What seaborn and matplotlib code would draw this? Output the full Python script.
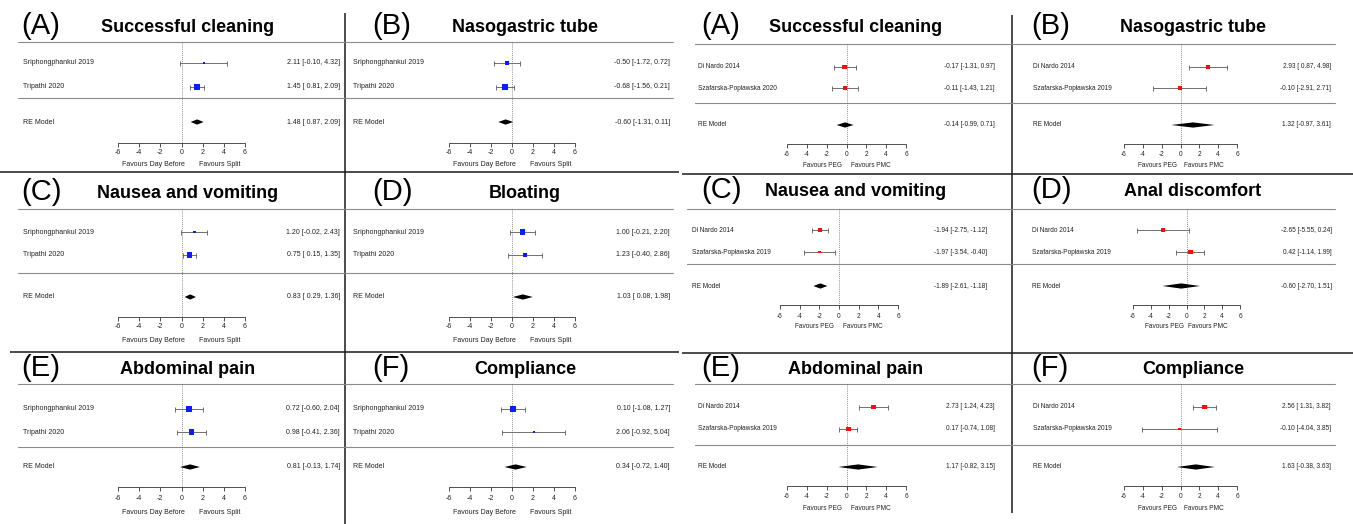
import matplotlib
matplotlib.use("Agg")
import matplotlib.pyplot as plt
import seaborn as sns
import numpy as np
import pandas as pd

sns.set_theme(style="white")
plt.rcParams['font.family'] = ['Liberation Sans', 'DejaVu Sans']

W, H = 1353, 524

# ---------------- data ----------------
tags = ["(A)", "(B)", "(C)", "(D)", "(E)", "(F)"]
ticks = [-6, -4, -2, 0, 2, 4, 6]

outcomes_split = ["Successful cleaning", "Nasogastric tube", "Nausea and vomiting",
                  "Bloating", "Abdominal pain", "Compliance"]
studies_split = ["Sriphongphankul 2019", "Tripathi 2020"]
split_est = [[2.11, 1.45], [-0.50, -0.68], [1.20, 0.75], [1.00, 1.23], [0.72, 0.98], [0.10, 2.06]]
split_lo = [[-0.10, 0.81], [-1.72, -1.56], [-0.02, 0.15], [-0.21, -0.40], [-0.60, -0.41], [-1.08, -0.92]]
split_hi = [[4.32, 2.09], [0.72, 0.21], [2.43, 1.35], [2.20, 2.86], [2.04, 2.36], [1.27, 5.04]]
split_re = [1.48, -0.60, 0.83, 1.03, 0.81, 0.34]
split_re_lo = [0.87, -1.31, 0.29, 0.08, -0.13, -0.72]
split_re_hi = [2.09, 0.11, 1.36, 1.98, 1.74, 1.40]
split_favours = ["Favours Day Before", "Favours Split"]

outcomes_peg = ["Successful cleaning", "Nasogastric tube", "Nausea and vomiting",
                "Anal discomfort", "Abdominal pain", "Compliance"]
studies_peg = [["Di Nardo 2014", "Szafarska-Poplawska 2020"]] + \
              [["Di Nardo 2014", "Szafarska-Popławska 2019"]] * 5
peg_est = [[-0.17, -0.11], [2.93, -0.10], [-1.94, -1.97], [-2.65, 0.42], [2.73, 0.17], [2.56, -0.10]]
peg_lo = [[-1.31, -1.43], [0.87, -2.91], [-2.75, -3.54], [-5.55, -1.14], [1.24, -0.74], [1.31, -4.04]]
peg_hi = [[0.97, 1.21], [4.98, 2.71], [-1.12, -0.40], [0.24, 1.99], [4.23, 1.08], [3.82, 3.85]]
peg_re = [-0.14, 1.32, -1.89, -0.60, 1.17, 1.63]
peg_re_lo = [-0.99, -0.97, -2.61, -2.70, -0.82, -0.38]
peg_re_hi = [0.71, 3.61, -1.18, 1.51, 3.15, 3.63]
peg_favours = ["Favours PEG", "Favours PMC"]

# ---------------- layout (pixels) ----------------
COLS = [
    dict(x0=0, x1=345, m6=118, p6=245, lab=23, rt=340, l0=18, l1=345, tc=188, tag=21),
    dict(x0=345, x1=680, m6=449, p6=575, lab=353, rt=670, l0=345, l1=673, tc=525, tag=372),
    dict(x0=680, x1=1012, m6=787, p6=906, lab=698, rt=995, l0=695, l1=1012, tc=856, tag=701),
    dict(x0=1012, x1=1353, m6=1124, p6=1237, lab=1033, rt=1331, l0=1012, l1=1335, tc=1193, tag=1031),
]
# overrides for the middle row of the right group
COL_OVR = {(1, 2): dict(m6=780, p6=898, lab=692, rt=987, l0=687),
           (1, 3): dict(m6=1133, p6=1240, lab=1032, rt=1332)}

ROWS_L = [
    dict(top=0, bot=172, title=26, tline=42, r=(63, 87), sep=98, re=122, axis=143, tick=153, fav=165),
    dict(top=172, bot=352, title=192, tline=209, r=(232, 255), sep=273, re=297, axis=317, tick=327, fav=341),
    dict(top=352, bot=524, title=368, tline=384, r=(409, 432), sep=447, re=467, axis=487, tick=498, fav=512),
]
ROWS_R = [
    dict(top=0, bot=174, title=26, tline=44, r=(67, 88), sep=103, re=125, axis=144, tick=155, fav=166),
    dict(top=174, bot=353, title=190, tline=209, r=(230, 252), sep=264, re=286, axis=305, tick=316, fav=326),
    dict(top=353, bot=524, title=368, tline=384, r=(407, 429), sep=445, re=467, axis=486, tick=497, fav=508),
]

fig = plt.figure(figsize=(W / 100, H / 100), dpi=100)
fig.patch.set_facecolor("white")

# background axes in pixel coordinates for the frame lines
bg = fig.add_axes([0, 0, 1, 1])
bg.set_xlim(0, W)
bg.set_ylim(H, 0)
bg.axis("off")
frame_kw = dict(color="#1a1a1a", lw=1.1, solid_capstyle="butt")
bg.plot([345, 345], [13, 524], **frame_kw)
bg.plot([1012, 1012], [15, 513], **frame_kw)
bg.plot([0, 679], [172, 172], **frame_kw)
bg.plot([10, 679], [352, 352], **frame_kw)
bg.plot([682, 1353], [174, 174], **frame_kw)
bg.plot([682, 1353], [353, 353], **frame_kw)


def re_weights(lo, hi, re_lo, re_hi):
    """Random-effects weights 1/(v_i + tau^2), tau^2 recovered from the pooled CI."""
    v = ((np.asarray(hi) - np.asarray(lo)) / 3.92) ** 2
    target = 1.0 / ((re_hi - re_lo) / 3.92) ** 2
    if np.sum(1 / v) <= target:
        return 1 / v
    a, b = 0.0, 100.0
    for _ in range(80):
        m = (a + b) / 2
        if np.sum(1 / (v + m)) > target:
            a = m
        else:
            b = m
    return 1 / (v + a)


def panel(col, row, tag, title, studies, est, lo, hi, re, re_lo, re_hi,
          favours, fav_pos, color, fs, max_side):
    zpx = (col['m6'] + col['p6']) / 2
    s = (col['p6'] - col['m6']) / 12

    def X(px):
        return (px - zpx) / s

    ax = fig.add_axes([col['x0'] / W, 1 - row['bot'] / H,
                       (col['x1'] - col['x0']) / W, (row['bot'] - row['top']) / H])
    ax.patch.set_alpha(0)

    df = pd.DataFrame(dict(study=studies, est=est, lo=lo, hi=hi, y=list(row['r'])))
    w = re_weights(lo, hi, re_lo, re_hi)
    side = max_side * np.sqrt(w) / np.sqrt(w).max()
    df['msize'] = (side * 0.72) ** 2

    # CI lines with caps
    ax.errorbar(df['est'], df['y'], xerr=[df['est'] - df['lo'], df['hi'] - df['est']],
                fmt='none', ecolor="#5a5a5a", elinewidth=0.6, capsize=1.8, capthick=0.6, zorder=2)
    sns.scatterplot(data=df, x='est', y='y', marker='s', s=df['msize'].values,
                    color=color, linewidth=0, ax=ax, legend=False, zorder=3)

    # summary diamond
    h = 2.6
    ax.fill([re_lo, re, re_hi, re], [row['re'], row['re'] - h, row['re'], row['re'] + h],
            color="black", lw=0, zorder=3)

    gray = dict(color="#8a8a8a", lw=0.8, clip_on=False)
    ax.plot([X(col['l0']), X(col['l1'])], [row['tline'], row['tline']], **gray)
    ax.plot([X(col['l0']), X(col['l1'])], [row['sep'], row['sep']], **gray)
    ax.plot([0, 0], [row['tline'], row['axis']], color="#6a6a6a", lw=0.6, ls=(0, (1, 1.5)))

    # x axis
    ax.plot([ticks[0], ticks[-1]], [row['axis'], row['axis']], color="#333333", lw=0.6)
    ax.vlines(ticks, row['axis'], row['axis'] + 4, color="#333333", lw=0.6)
    for t in ticks:
        ax.text(t, row['tick'], f"{t}", ha='center', va='center', fontsize=fs, color="#222222")
    ax.text(fav_pos[0], row['fav'], favours[0], ha='center', va='center', fontsize=fs, color="#222222")
    ax.text(fav_pos[1], row['fav'], favours[1], ha='center', va='center', fontsize=fs, color="#222222")

    # study labels and estimates
    for _, r in df.iterrows():
        ax.text(X(col['lab']), r['y'], r['study'], ha='left', va='center', fontsize=fs, color="#222222")
        ax.text(X(col['rt']), r['y'], f"{r['est']:.2f} [{r['lo']:5.2f}, {r['hi']:.2f}]",
                ha='right', va='center', fontsize=fs, color="#222222")
    ax.text(X(col['lab']), row['re'], "RE Model", ha='left', va='center', fontsize=fs, color="#222222")
    ax.text(X(col['rt']), row['re'], f"{re:.2f} [{re_lo:5.2f}, {re_hi:.2f}]",
            ha='right', va='center', fontsize=fs, color="#222222")

    # titles
    ax.text(X(col['tag']), row['title'], tag, ha='left', va='center', fontsize=21, color="black")
    ax.text(X(col['tc']), row['title'] + 1, title, ha='center', va='center', fontsize=13,
            fontweight='bold', color="black")

    ax.set_xlim(X(col['x0']), X(col['x1']))
    ax.set_ylim(row['bot'], row['top'])
    ax.axis('off')


for i in range(6):
    r, c = divmod(i, 2)
    panel(COLS[c], ROWS_L[r], tags[i], outcomes_split[i], studies_split,
          split_est[i], split_lo[i], split_hi[i], split_re[i], split_re_lo[i], split_re_hi[i],
          split_favours, (-2.65, 3.65), "#0a1cff", 5.0, 5.4)
    col = dict(COLS[c + 2])
    col.update(COL_OVR.get((r, c + 2), {}))
    panel(col, ROWS_R[r], tags[i], outcomes_peg[i], studies_peg[i],
          peg_est[i], peg_lo[i], peg_hi[i], peg_re[i], peg_re_lo[i], peg_re_hi[i],
          peg_favours, (-2.45, 2.45), "#ff0a0a", 4.7, 4.8)

fig.savefig("out.png", dpi=100, facecolor="white")
